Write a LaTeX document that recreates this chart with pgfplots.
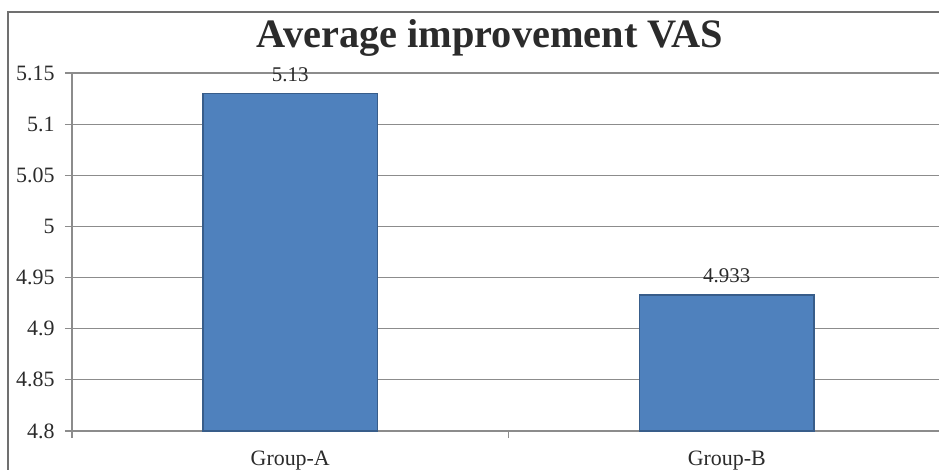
\documentclass[border=0pt]{standalone}
\usepackage{fontspec}
\setmainfont{Liberation Serif}
\usepackage{pgfplots}
\pgfplotsset{compat=1.18}
\definecolor{barfill}{HTML}{4F81BD}
\definecolor{baredge}{HTML}{385D8A}
\definecolor{gridc}{HTML}{8C8C8C}
\definecolor{txt}{HTML}{2B2B2B}
\begin{document}
\begin{tikzpicture}
\useasboundingbox (0bp,0bp) rectangle (939bp,470bp);
\fill[white] (0bp,0bp) rectangle (939bp,470bp);
\draw[gridc!80!black, line width=1.2bp] (8bp,-20bp) -- (8bp,458bp) -- (960bp,458bp);
\node[font=\fontsize{40.5}{46}\selectfont\bfseries, text=txt] at (490bp,432bp) {Average improvement VAS};
\begin{axis}[
  at={(72bp,39bp)}, anchor=south west,
  scale only axis, width=873bp, height=358bp,
  xmin=-0.5, xmax=1.5, ymin=4.8, ymax=5.15,
  ytick={4.8,4.85,...,5.15},
  yticklabels={4.8,4.85,4.9,4.95,5,5.05,5.1,5.15},
  xtick={0,1}, xticklabels={Group-A,Group-B},
  minor xtick={-0.5,0.5,1.5},
  axis x line=bottom, axis y line=left,
  axis line style={-, gridc, line width=1.2bp},
  tick align=outside,
  major tick length=7bp,
  x tick style={draw=none},
  minor x tick style={draw=gridc, line width=1.2bp},
  minor tick length=7bp,
  y tick style={gridc, line width=1.2bp},
  ymajorgrids, grid style={gridc, line width=1.2bp},
  ticklabel style={font=\fontsize{22}{25}\selectfont, text=txt},
  /pgf/number format/assume math mode=true,
  xticklabel style={yshift=-9bp},
  yticklabel style={xshift=-7bp},
  ybar, bar width=0.4,
  nodes near coords,
  nodes near coords style={font=\fontsize{21}{24}\selectfont, text=txt, yshift=8bp,
    /pgf/number format/.cd, fixed, precision=3},
  clip=false,
]
\addplot[fill=barfill, draw=baredge, line width=1.2bp] coordinates {(0,5.13) (1,4.933)};
\end{axis}
\end{tikzpicture}
\end{document}
